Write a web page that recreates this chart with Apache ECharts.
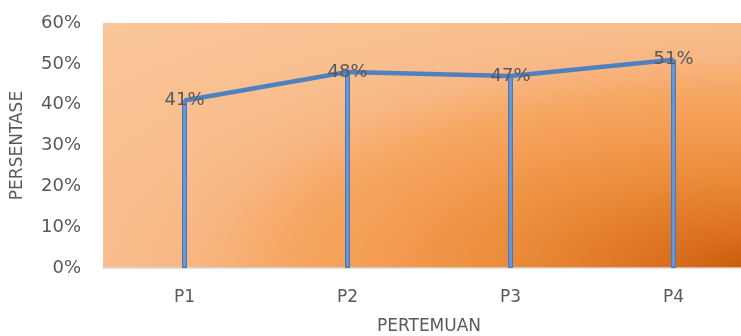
<!DOCTYPE html>
<html>
<head>
<meta charset="utf-8">
<script src="https://cdn.jsdelivr.net/npm/echarts@6/dist/echarts.min.js"></script>
<style>
  html, body { margin: 0; padding: 0; background: #fff; }
  #chart { width: 741px; height: 336px; }
</style>
</head>
<body>
<div id="chart"></div>
<script>
// Meeting-by-meeting percentages
const categories = ['P1', 'P2', 'P3', 'P4'];
const persentase = [0.41, 0.48, 0.47, 0.51];
const yTicks = [0, 0.1, 0.2, 0.3, 0.4, 0.5, 0.6];

const FONT = 'DejaVu Sans';
const TEXT = '#595959';

// plot box (right edge runs past the canvas)
const G = { left: 103, top: 23, width: 652, height: 245 };

const chart = echarts.init(document.getElementById('chart'), null, { renderer: 'canvas' });

// warm orange fill, darkest toward the lower-right corner
const fill = new echarts.graphic.RadialGradient(1, 1, 1.414, [
  { offset: 0.0, color: '#C85A06' },
  { offset: 0.09, color: '#D96E1E' },
  { offset: 0.17, color: '#E27C2A' },
  { offset: 0.27, color: '#EB8C3A' },
  { offset: 0.44, color: '#F5A058' },
  { offset: 0.50, color: '#F6A660' },
  { offset: 0.62, color: '#F8B886' },
  { offset: 0.71, color: '#F9BE8E' },
  { offset: 1.0, color: '#F9C699' }
]);

const pct = v => Math.round(v * 100) + '%';

chart.setOption({
  animation: false,
  graphic: [{
    type: 'rect',
    x: G.left,
    y: G.top,
    scaleX: G.width / G.height,
    z: -10,
    silent: true,
    shape: { x: 0, y: 0, width: G.height, height: G.height },
    style: { fill: fill }
  }],
  grid: {
    left: G.left, top: G.top, width: G.width, height: G.height,
    containLabel: false,
    outerBoundsMode: 'none'
  },
  xAxis: {
    type: 'category',
    data: categories,
    boundaryGap: true,
    name: 'PERTEMUAN',
    nameLocation: 'middle',
    nameGap: 50,
    nameTextStyle: { fontFamily: FONT, fontSize: 17, color: TEXT },
    axisLine: { show: true, lineStyle: { color: '#D9D9D9', width: 1.5 } },
    axisTick: { show: false },
    axisLabel: { fontFamily: FONT, fontSize: 17, color: TEXT, margin: 21 },
    splitLine: { show: false }
  },
  yAxis: {
    type: 'value',
    min: 0,
    max: 0.6,
    interval: 0.1,
    name: 'PERSENTASE',
    nameLocation: 'middle',
    nameGap: 77,
    nameRotate: 90,
    nameTextStyle: { fontFamily: FONT, fontSize: 17, color: TEXT },
    axisLine: { show: false },
    axisTick: { show: false },
    splitLine: { show: false },
    axisLabel: {
      fontFamily: FONT, fontSize: 18, color: TEXT, margin: 22,
      formatter: v => yTicks.some(t => Math.abs(t - v) < 1e-9) ? pct(v) : ''
    }
  },
  series: [
    {
      // drop lines from each point down to the axis
      type: 'bar',
      data: persentase,
      barWidth: 5,
      z: 2,
      itemStyle: { color: '#6F99D0', borderColor: '#4A79B9', borderWidth: 1.2 },
      silent: true
    },
    {
      type: 'line',
      data: persentase,
      z: 3,
      symbol: 'circle',
      symbolSize: 2,
      showSymbol: true,
      lineStyle: { color: '#4F80BF', width: 4.5 },
      itemStyle: { color: '#4F80BF' },
      label: {
        show: true,
        position: 'inside',
        fontFamily: FONT,
        fontSize: 18,
        color: TEXT,
        formatter: p => pct(p.value)
      }
    }
  ]
});
</script>
</body>
</html>
